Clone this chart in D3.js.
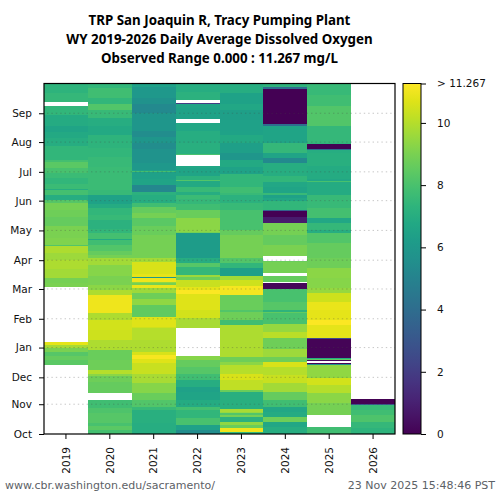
<!DOCTYPE html>
<html>
<head>
<meta charset="utf-8">
<script src="https://cdn.jsdelivr.net/npm/d3@7"></script>
<style>
  html, body { margin: 0; padding: 0; background: #fff; }
  svg { display: block; }
</style>
</head>
<body>
<div id="chart"></div>
<script>
// water years along the bottom
var years = ["2019", "2020", "2021", "2022", "2023", "2024", "2025", "2026"];

// month ticks, as day offsets up the y axis
var monthNames = ["Oct", "Nov", "Dec", "Jan", "Feb", "Mar", "Apr", "May", "Jun", "Jul", "Aug", "Sep"];
var monthDays = [0, 31, 59, 90, 120, 151, 181, 212, 243, 273, 304, 334];

var colorTicks = [0, 2, 4, 6, 8, 10];
var maxDO = 11.267;

// each row is [last day of the run, mg/L], null = no data
var wy2019 = [[72,null],[77,8.4],[81,8.6],[85,8.3],[90,9.0],[93,9.8],[96,10.8],[153,null],[157,9.0],[162,8.9],[172,9.7],[181,9.9],[188,9.6],[196,9.9],[197,8.2],[204,9.1],[217,9.0],[226,8.6],[233,8.8],[241,8.9],[244,8.3],[249,7.0],[254,7.9],[255,7.0],[260,7.7],[267,7.4],[272,7.7],[277,8.0],[283,8.4],[285,7.9],[300,7.4],[308,7.0],[314,6.8],[321,6.6],[332,6.9],[342,7.4],[346,null],[355,7.5],[365,7.3]];
var wy2020 = [[4,7.9],[8,8.4],[11,8.0],[22,8.3],[27,8.1],[30,7.8],[35,7.8],[43,null],[54,8.6],[60,8.8],[63,9.3],[67,10.0],[77,8.8],[87,8.7],[98,9.9],[108,10.4],[119,10.5],[126,9.9],[129,11.0],[145,11.0],[150,9.9],[155,9.3],[165,9.0],[176,9.2],[183,9.7],[186,8.9],[191,8.6],[197,8.2],[202,7.8],[203,6.8],[209,7.9],[214,7.4],[223,7.2],[228,7.6],[235,7.4],[240,6.9],[249,6.5],[254,7.6],[261,7.7],[278,7.7],[288,7.6],[298,7.4],[311,7.3],[321,6.8],[329,7.0],[337,7.6],[344,8.2],[350,7.4],[360,7.8],[365,7.4]];
var wy2021 = [[11,7.0],[25,7.1],[28,7.6],[35,8.2],[43,8.7],[53,9.2],[63,9.8],[74,10.3],[78,10.7],[82,11.1],[85,10.6],[98,9.9],[110,10.0],[111,10.4],[122,10.7],[134,8.5],[141,9.4],[147,8.8],[152,9.6],[155,10.9],[157,8.9],[158,9.4],[162,11.0],[163,6.0],[167,10.8],[179,10.6],[183,9.7],[207,8.9],[217,8.7],[225,8.4],[230,8.9],[236,8.6],[241,7.8],[249,7.0],[252,7.2],[259,5.2],[266,6.6],[273,6.4],[274,7.9],[275,6.5],[282,6.0],[297,5.8],[303,5.5],[309,5.9],[316,5.5],[334,5.9],[344,5.3],[350,5.7],[361,6.0],[365,6.4]];
var wy2022 = [[4,5.5],[9,6.4],[17,8.0],[25,7.4],[28,7.9],[35,6.9],[44,6.6],[49,6.4],[56,7.0],[63,7.8],[70,8.3],[77,8.6],[81,9.2],[110,null],[121,9.8],[129,10.5],[146,10.7],[150,11.2],[153,10.8],[160,10.3],[163,8.8],[166,9.6],[174,7.5],[178,8.3],[183,7.0],[209,6.2],[210,8.9],[225,9.3],[233,8.7],[240,7.8],[245,7.5],[249,7.7],[252,7.0],[257,7.6],[263,6.8],[265,8.2],[269,7.2],[277,6.6],[279,6.7],[291,null],[292,8.0],[303,7.1],[316,7.0],[324,6.7],[328,null],[339,6.5],[344,6.6],[345,2.0],[348,null],[356,7.2],[365,7.0]];
var wy2023 = [[2,7.4],[6,11.0],[9,8.7],[12,9.4],[18,7.2],[20,8.9],[22,8.2],[23,9.5],[26,9.8],[44,7.1],[46,8.7],[56,10.2],[63,10.6],[72,10.0],[75,9.3],[80,8.8],[113,9.9],[119,7.8],[127,8.8],[129,8.2],[145,8.7],[154,11.1],[160,10.4],[165,9.7],[173,6.3],[178,7.4],[183,8.2],[193,8.9],[207,8.9],[212,8.6],[223,8.0],[233,8.0],[241,7.6],[249,7.2],[251,7.6],[257,7.8],[271,7.4],[278,6.5],[285,6.8],[293,5.9],[303,6.3],[311,6.8],[316,6.5],[327,6.4],[337,6.3],[344,6.7],[355,6.5],[365,7.0]];
var wy2024 = [[7,7.0],[12,6.7],[18,8.8],[23,6.9],[28,6.7],[35,7.8],[44,8.6],[53,9.7],[61,10.3],[70,10.0],[75,10.6],[80,8.8],[89,9.6],[100,8.8],[106,10.1],[115,9.5],[126,8.0],[127,8.5],[129,7.3],[137,8.3],[151,8.0],[157,0.2],[158,null],[165,8.6],[168,null],[179,8.9],[180,8.7],[185,null],[197,9.0],[207,8.6],[220,8.9],[226,0.8],[232,0],[233,3.5],[243,7.4],[246,6.7],[249,6.4],[251,7.6],[257,6.6],[262,6.7],[269,7.4],[282,7.0],[287,5.3],[293,6.6],[303,7.5],[321,6.6],[323,4],[359,0],[361,4],[365,7.3]];
var wy2025 = [[7,7.8],[20,null],[32,8.9],[43,9.3],[51,10.0],[58,10.5],[72,9.4],[73,5.7],[74,0.1],[76,null],[77,0.3],[78,8.5],[79,7.0],[99,0.1],[100,2.5],[113,10.8],[119,11.2],[129,10.8],[137,10.9],[147,10.4],[152,9.5],[162,9.2],[173,9.3],[183,8.8],[199,8.6],[209,8.2],[212,7.0],[220,7.5],[225,6.7],[235,7.9],[249,7.6],[262,6.9],[263,8.0],[266,6.7],[279,6.9],[293,7.1],[296,7.0],[297,4],[302,0],[303,7.3],[321,7.5],[342,8.2],[353,7.8],[365,7.6]];
var wy2026 = [[6,7.3],[13,7.5],[20,8.1],[25,7.8],[30,7.6],[31,3],[36,0],[365,null]];

var allYears = [wy2019, wy2020, wy2021, wy2022, wy2023, wy2024, wy2025, wy2026];

var width = 500,
    height = 500,
    margin = {top: 83.5, right: 105, bottom: 66, left: 44};

var svg = d3.select("#chart")
    .append("svg")
    .attr("width", width)
    .attr("height", height)
    .style("font-family", "'DejaVu Sans', sans-serif");

var x = d3.scaleBand()
    .domain(years)
    .range([margin.left, width - margin.right]);

var y = d3.scaleLinear()
    .domain([0, 365])
    .range([height - margin.bottom, margin.top]);

var color = function(v) { return d3.interpolateViridis(v / maxDO); };

// turn the runs into bars with a start and end day
var cells = [];
allYears.forEach(function(runs, i) {
    var start = 0;
    runs.forEach(function(r) {
        if (r[1] !== null) cells.push({year: years[i], start: start, end: r[0], value: r[1]});
        start = r[0];
    });
});

svg.append("g")
    .attr("shape-rendering", "crispEdges")
    .selectAll("rect")
    .data(cells)
    .enter().append("rect")
    .attr("x", function(d) { return x(d.year); })
    .attr("width", x.bandwidth())
    .attr("y", function(d) { return y(d.end); })
    .attr("height", function(d) { return y(d.start) - y(d.end); })
    .attr("fill", function(d) { return color(d.value); });

// dotted month lines over the heatmap
svg.append("g")
    .selectAll("line")
    .data(monthDays.slice(1))
    .enter().append("line")
    .attr("x1", margin.left + 3)
    .attr("x2", width - margin.right)
    .attr("y1", function(d) { return y(d); })
    .attr("y2", function(d) { return y(d); })
    .attr("stroke", "#444")
    .attr("stroke-opacity", 0.3)
    .attr("stroke-width", 1)
    .attr("stroke-dasharray", "1.4,3");

var yAxis = d3.axisLeft(y)
    .tickValues(monthDays)
    .tickFormat(function(d, i) { return monthNames[i]; })
    .tickSize(5)
    .tickPadding(7);

var gy = svg.append("g")
    .attr("transform", "translate(" + margin.left + ",0)")
    .call(yAxis);
gy.select(".domain").remove();

var xAxis = d3.axisBottom(x)
    .tickSize(5)
    .tickPadding(0);

var gx = svg.append("g")
    .attr("transform", "translate(0," + (height - margin.bottom) + ")")
    .call(xAxis);
gx.select(".domain").remove();
gx.selectAll("text")
    .attr("transform", "rotate(-90)")
    .attr("text-anchor", "end")
    .attr("x", -13)
    .attr("y", 0)
    .attr("dy", "0.35em");

// plot frame
svg.append("rect")
    .attr("x", margin.left)
    .attr("y", margin.top)
    .attr("width", width - margin.left - margin.right)
    .attr("height", height - margin.top - margin.bottom)
    .attr("fill", "none")
    .attr("stroke", "#000")
    .attr("stroke-width", 1.2);

// colorbar
var barX = 403,
    barW = 18;

var barY = d3.scaleLinear()
    .domain([0, maxDO])
    .range([height - margin.bottom, margin.top]);

var grad = svg.append("defs").append("linearGradient")
    .attr("id", "viridis")
    .attr("x1", 0).attr("x2", 0)
    .attr("y1", 1).attr("y2", 0);

grad.selectAll("stop")
    .data(d3.range(0, 1.001, 0.05))
    .enter().append("stop")
    .attr("offset", function(d) { return d; })
    .attr("stop-color", function(d) { return d3.interpolateViridis(d); });

svg.append("rect")
    .attr("x", barX)
    .attr("y", margin.top)
    .attr("width", barW)
    .attr("height", height - margin.top - margin.bottom)
    .attr("fill", "url(#viridis)")
    .attr("stroke", "#000")
    .attr("stroke-width", 1);

var barAxis = d3.axisRight(barY)
    .tickValues(colorTicks.concat([maxDO]))
    .tickFormat(function(d) { return d === maxDO ? "> " + maxDO : d; })
    .tickSize(5)
    .tickPadding(11);

var gc = svg.append("g")
    .attr("transform", "translate(" + (barX + barW) + ",0)")
    .call(barAxis);
gc.select(".domain").remove();

svg.selectAll(".tick text")
    .attr("font-family", "'DejaVu Sans', sans-serif")
    .attr("font-size", 10.5)
    .attr("fill", "#111");

// titles
var titles = [
    "TRP San Joaquin R, Tracy Pumping Plant",
    "WY 2019-2026 Daily Average Dissolved Oxygen",
    "Observed Range 0.000 : 11.267 mg/L"
];

svg.append("g")
    .selectAll("text")
    .data(titles)
    .enter().append("text")
    .attr("x", (x.range()[0] + x.range()[1]) / 2)
    .attr("y", function(d, i) { return 25 + i * 19; })
    .attr("text-anchor", "middle")
    .attr("font-family", "'Noto Sans', sans-serif")
    .attr("font-weight", "bold")
    .attr("font-size", 13.33)
    .attr("fill", "#000")
    .text(function(d) { return d; });

// footer
svg.append("text")
    .attr("x", 5)
    .attr("y", 489)
    .attr("font-size", 11)
    .attr("fill", "#5c6166")
    .text("www.cbr.washington.edu/sacramento/");

svg.append("text")
    .attr("x", 495)
    .attr("y", 489)
    .attr("text-anchor", "end")
    .attr("font-size", 11)
    .attr("fill", "#5c6166")
    .text("23 Nov 2025 15:48:46 PST");
</script>
</body>
</html>
